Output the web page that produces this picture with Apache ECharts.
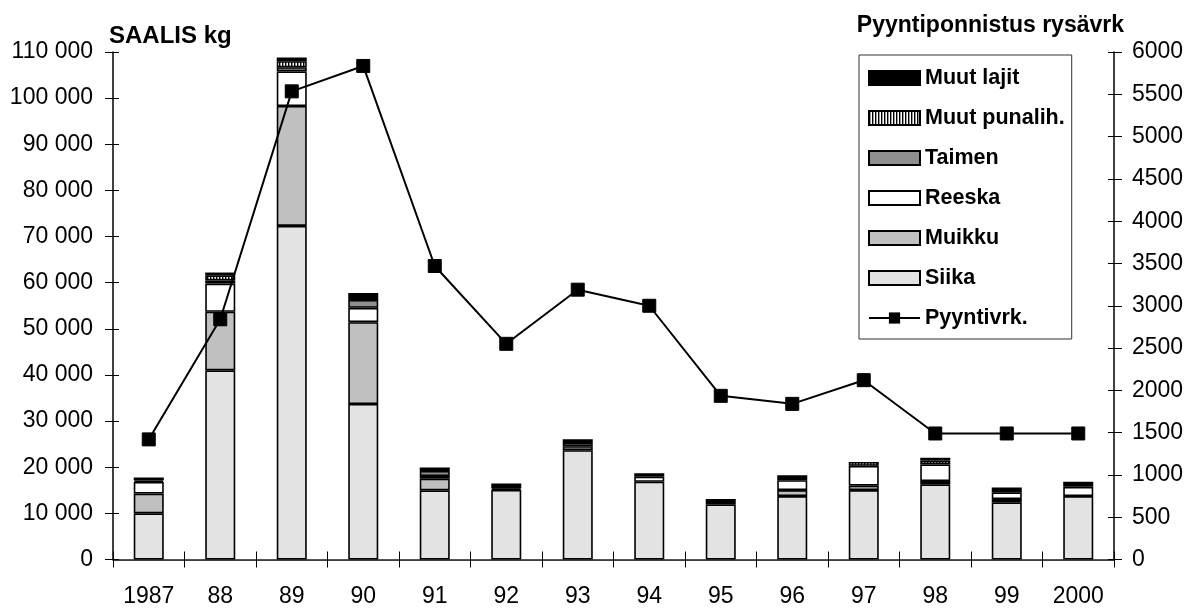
<!DOCTYPE html>
<html>
<head>
<meta charset="utf-8">
<script src="https://cdn.jsdelivr.net/npm/echarts@6/dist/echarts.min.js"></script>
<style>html,body{margin:0;padding:0;background:#fff}#c{width:1195px;height:613px}</style>
</head>
<body>
<div id="c"></div>
<script>
const categories = ['1987','88','89','90','91','92','93','94','95','96','97','98','99','2000'];
const siika      = [10000, 41000, 72300, 33700, 15000, 15100, 23700, 16850, 11950, 13750, 15050, 16300, 12400, 13750];
const muikku     = [4300, 12700, 26000, 17750, 2500, 0, 850, 0, 0, 1300, 950, 700, 700, 0];
const reeska     = [2500, 6100, 7500, 3100, 600, 300, 700, 1100, 0, 2150, 4300, 3600, 1450, 2000];
const taimen     = [0, 700, 900, 1700, 1100, 0, 0, 0, 0, 0, 0, 0, 0, 0];
const muutPunalih= [300, 1100, 1300, 0, 0, 0, 0, 0, 0, 0, 850, 850, 0, 0];
const muutLajit  = [700, 600, 800, 1500, 750, 1100, 800, 750, 1150, 1050, 0, 600, 1080, 1080];
const pyyntivrk  = [1420, 2840, 5535, 5835, 3470, 2550, 3190, 3000, 1935, 1840, 2120, 1490, 1490, 1490];
const leftTicks  = {min: 0, max: 110000, interval: 10000};
const rightTicks = {min: 0, max: 6000, interval: 500};

const FONT = "'Liberation Sans', Arial, sans-serif";

// vertical stripe pattern
const pc = document.createElement('canvas');
pc.width = 3; pc.height = 4;
const pctx = pc.getContext('2d');
pctx.fillStyle = '#fff'; pctx.fillRect(0,0,3,4);
pctx.fillStyle = '#000'; pctx.fillRect(0,0,1.4,4);

const nz = a => a.map(v => v === 0 ? null : v);
const fmt = v => String(v).replace(/\B(?=(\d{3})+(?!\d))/g, ' ');

function barSeries(name, data, color) {
  return {
    name, type: 'bar', stack: 'catch', data: nz(data), barWidth: '42%',
    yAxisIndex: 0,
    itemStyle: {color, borderColor: '#000', borderWidth: 1.6},
    emphasis: {disabled: true}
  };
}

const chart = echarts.init(document.getElementById('c'), null, {renderer: 'canvas'});
chart.setOption({
  animation: false,
  textStyle: {fontFamily: FONT, color: '#000'},
  title: [
    {text: 'SAALIS kg', left: 104, top: 19, textStyle: {fontFamily: FONT, fontSize: 24, fontWeight: 'bold', color: '#000'}},
    {text: 'Pyyntiponnistus rysävrk', right: 66, top: 9, textStyle: {fontFamily: FONT, fontSize: 23, fontWeight: 'bold', color: '#000'}}
  ],
  grid: {left: 113, right: 81, top: 52, bottom: 53.5, containLabel: false},
  legend: {
    orient: 'vertical', left: 859, top: 55,
    padding: [12, 7, 10, 9],
    itemWidth: 51, itemHeight: 14, itemGap: 18,
    borderColor: '#333', borderWidth: 1,
    backgroundColor: '#fff',
    textStyle: {fontFamily: FONT, fontSize: 21.5, fontWeight: 'bold', color: '#000', lineHeight: 21},
    data: [
      {name: 'Muut lajit', icon: 'rect'},
      {name: 'Muut punalih.', icon: 'rect'},
      {name: 'Taimen', icon: 'rect'},
      {name: 'Reeska', icon: 'rect'},
      {name: 'Muikku', icon: 'rect'},
      {name: 'Siika', icon: 'rect'},
      {name: 'Pyyntivrk.'}
    ]
  },
  xAxis: [
    {
      type: 'category', data: categories, position: 'bottom',
      axisLine: {lineStyle: {color: '#000', width: 1.5}},
      axisTick: {show: true, interval: 0, length: 8, lineStyle: {color: '#000'}},
      axisLabel: {fontFamily: FONT, fontSize: 23, color: '#000', margin: 26, interval: 0},
      splitLine: {show: false}
    },
    {
      type: 'category', data: categories, position: 'bottom',
      axisLine: {show: false},
      axisTick: {show: true, inside: true, interval: 0, length: 8, lineStyle: {color: '#000'}},
      axisLabel: {show: false}, splitLine: {show: false}
    },
    {
      type: 'category', data: categories, position: 'top',
      axisLine: {show: true, lineStyle: {color: '#555', width: 1}},
      axisTick: {show: false}, axisLabel: {show: false}, splitLine: {show: false}
    }
  ],
  yAxis: [
    {
      type: 'value', position: 'left', min: leftTicks.min, max: leftTicks.max, interval: leftTicks.interval,
      axisLine: {show: true, lineStyle: {color: '#000', width: 1.5}},
      axisTick: {show: true, length: 8, lineStyle: {color: '#000'}},
      axisLabel: {fontFamily: FONT, fontSize: 23, color: '#000', margin: 20, formatter: fmt},
      splitLine: {show: false}
    },
    {
      type: 'value', position: 'right', min: rightTicks.min, max: rightTicks.max, interval: rightTicks.interval,
      axisLine: {show: true, lineStyle: {color: '#000', width: 1.5}},
      axisTick: {show: true, length: 8, lineStyle: {color: '#000'}},
      axisLabel: {fontFamily: FONT, fontSize: 23, color: '#000', margin: 18, formatter: v => String(v)},
      splitLine: {show: false}
    },
    {
      type: 'value', position: 'left', min: leftTicks.min, max: leftTicks.max, interval: leftTicks.interval,
      axisLine: {show: false},
      axisTick: {show: true, inside: true, length: 6, lineStyle: {color: '#000'}},
      axisLabel: {show: false}, splitLine: {show: false}
    },
    {
      type: 'value', position: 'right', min: rightTicks.min, max: rightTicks.max, interval: rightTicks.interval,
      axisLine: {show: false},
      axisTick: {show: true, inside: true, length: 6, lineStyle: {color: '#000'}},
      axisLabel: {show: false}, splitLine: {show: false}
    }
  ],
  series: [
    barSeries('Siika', siika, '#e3e3e3'),
    barSeries('Muikku', muikku, '#c0c0c0'),
    barSeries('Reeska', reeska, '#ffffff'),
    barSeries('Taimen', taimen, '#8f8f8f'),
    barSeries('Muut punalih.', muutPunalih, {image: pc, repeat: 'repeat'}),
    barSeries('Muut lajit', muutLajit, '#000000'),
    {
      name: 'Pyyntivrk.', type: 'line', yAxisIndex: 1, data: pyyntivrk,
      symbol: 'rect', symbolSize: 13, z: 5,
      lineStyle: {color: '#000', width: 2},
      itemStyle: {color: '#000', borderColor: '#000'},
      emphasis: {disabled: true}
    }
  ]
});
</script>
</body>
</html>
